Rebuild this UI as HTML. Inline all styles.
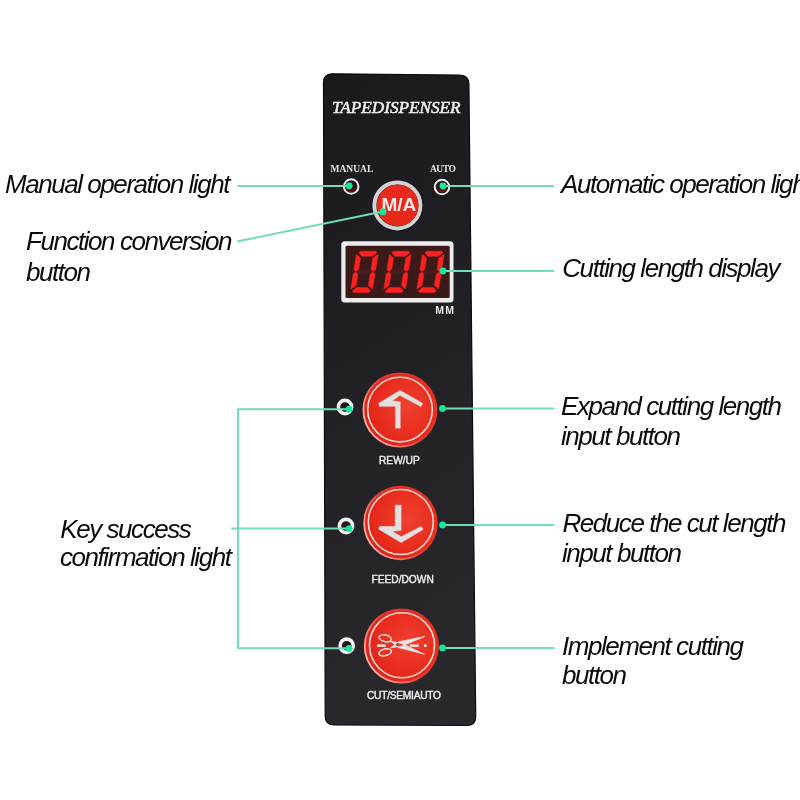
<!DOCTYPE html>
<html><head><meta charset="utf-8">
<style>
html,body{margin:0;padding:0;background:#fff;width:800px;height:800px;overflow:hidden}
svg{position:absolute;left:0;top:0;display:block;will-change:transform}
.lab{font-family:"Liberation Sans",sans-serif;font-style:italic;font-size:26px;letter-spacing:-1.45px;fill:#0a0a0a}
</style></head><body>
<svg width="800" height="800" viewBox="0 0 800 800">
<defs>
<linearGradient id="pg" x1="0" y1="0" x2="0.15" y2="1">
<stop offset="0" stop-color="#1a1a1e"/><stop offset="0.5" stop-color="#212125"/><stop offset="1" stop-color="#29292d"/>
</linearGradient>
<radialGradient id="rb" cx="0.6" cy="0.45" r="0.65">
<stop offset="0" stop-color="#f0402f"/><stop offset="0.7" stop-color="#e62a1c"/><stop offset="1" stop-color="#d42216"/>
</radialGradient>
<linearGradient id="rim" x1="0.9" y1="0.2" x2="0.05" y2="0.75">
<stop offset="0" stop-color="#ffb0a8" stop-opacity="0"/><stop offset="0.5" stop-color="#ffb0a8" stop-opacity="0.15"/><stop offset="1" stop-color="#ffc8c0" stop-opacity="0.9"/>
</linearGradient>
</defs>
<!-- panel -->
<path d="M332.5,73.8 L459.8,75 Q468.8,75.1 468.9,84 L475.7,716.5 Q475.8,725.5 466.8,725.5 L334.2,725 Q325.2,725 325.2,716 L323.5,82.8 Q323.5,73.8 332.5,73.8 Z" fill="url(#pg)" stroke="#0b0b0d" stroke-width="1.2"/>
<!-- title -->
<text x="332" y="112.6" font-family="Liberation Serif" font-style="italic" font-size="17.2" fill="#f0f0f0" stroke="#f0f0f0" stroke-width="0.5">TAPEDISPENSER</text>
<text x="330.5" y="172" font-family="Liberation Serif" font-weight="bold" font-size="9.5" fill="#e8e8e8">MANUAL</text>
<text x="430" y="172" font-family="Liberation Serif" font-weight="bold" font-size="9.5" letter-spacing="-0.5" fill="#e8e8e8">AUTO</text>
<!-- manual/auto leds -->
<circle cx="351.2" cy="186.5" r="8.3" fill="#2a1416" stroke="#0a0a0a" stroke-width="1"/>
<circle cx="351.2" cy="186.5" r="7.3" fill="none" stroke="#f2f2f2" stroke-width="2"/>
<circle cx="442" cy="187" r="8.3" fill="#2a1416" stroke="#0a0a0a" stroke-width="1"/>
<circle cx="442" cy="187" r="7.3" fill="none" stroke="#f2f2f2" stroke-width="2"/>
<path d="M346.8,188 A4.6,4.6 0 0 0 355.6,188" fill="none" stroke="#701210" stroke-width="1.6"/>
<path d="M437.6,188.5 A4.6,4.6 0 0 0 446.4,188.5" fill="none" stroke="#701210" stroke-width="1.6"/>
<!-- M/A button -->
<circle cx="397.4" cy="205.4" r="25.3" fill="#1a1a1a"/>
<circle cx="397.4" cy="205.4" r="23" fill="none" stroke="#d4d2d2" stroke-width="4"/>
<circle cx="397.6" cy="205.3" r="20.8" fill="#e8281a"/>
<text x="381.5" y="211" font-family="Liberation Sans" font-weight="bold" font-size="19" fill="#f3e9e8">M/A</text>
<!-- display -->
<rect x="341.3" y="241.3" width="112.2" height="61.2" rx="3.5" fill="#ededed"/>
<rect x="345.5" y="245.8" width="104.2" height="52.2" rx="1.5" fill="#3a1b1a"/>
<g id="dig">
<g transform="matrix(1,0,-0.16,1,356.61,251.2)"><path d="M3,20.6 L5.3,18.6 H17 L19.3,20.6 L17,22.6 H5.3 Z" fill="#4a1c1a"/><path d="M4,0 H19 L20.5,1.3 L16.5,5 H6 L2.5,1.3 Z M0.3,3.2 L5,6.8 V18 L2.7,20.3 L0.3,18.6 Z M22,3.2 V18.6 L19.6,20.3 L17.3,18 V6.8 Z M0.3,22.6 L2.7,20.9 L5,23.2 V34.3 L0.3,37.8 Z M22,22.6 V37.8 L17.3,34.3 V23.2 L19.6,20.9 Z M6,36.2 H16.5 L20,39.7 L18.5,41.3 H3.5 L2,39.7 Z" fill="#ff2020" stroke="#ff2020" stroke-width="0.5" stroke-linejoin="round"/></g>
<g transform="matrix(1,0,-0.16,1,389.61,251.2)"><path d="M3,20.6 L5.3,18.6 H17 L19.3,20.6 L17,22.6 H5.3 Z" fill="#4a1c1a"/><path d="M4,0 H19 L20.5,1.3 L16.5,5 H6 L2.5,1.3 Z M0.3,3.2 L5,6.8 V18 L2.7,20.3 L0.3,18.6 Z M22,3.2 V18.6 L19.6,20.3 L17.3,18 V6.8 Z M0.3,22.6 L2.7,20.9 L5,23.2 V34.3 L0.3,37.8 Z M22,22.6 V37.8 L17.3,34.3 V23.2 L19.6,20.9 Z M6,36.2 H16.5 L20,39.7 L18.5,41.3 H3.5 L2,39.7 Z" fill="#ff2020" stroke="#ff2020" stroke-width="0.5" stroke-linejoin="round"/></g>
<g transform="matrix(1,0,-0.16,1,422.61,251.2)"><path d="M3,20.6 L5.3,18.6 H17 L19.3,20.6 L17,22.6 H5.3 Z" fill="#4a1c1a"/><path d="M4,0 H19 L20.5,1.3 L16.5,5 H6 L2.5,1.3 Z M0.3,3.2 L5,6.8 V18 L2.7,20.3 L0.3,18.6 Z M22,3.2 V18.6 L19.6,20.3 L17.3,18 V6.8 Z M0.3,22.6 L2.7,20.9 L5,23.2 V34.3 L0.3,37.8 Z M22,22.6 V37.8 L17.3,34.3 V23.2 L19.6,20.9 Z M6,36.2 H16.5 L20,39.7 L18.5,41.3 H3.5 L2,39.7 Z" fill="#ff2020" stroke="#ff2020" stroke-width="0.5" stroke-linejoin="round"/></g>
</g>
<text x="435.3" y="313.8" font-family="Liberation Sans" font-weight="bold" font-size="10.5" letter-spacing="1.2" fill="#e8e8e8">MM</text>
<!-- key leds -->
<g fill="#2a1618" stroke="#f3f3f3" stroke-width="3.6">
<circle cx="345" cy="407" r="6.6"/>
<circle cx="346" cy="526" r="6.6"/>
<circle cx="346.7" cy="645.7" r="6.6"/>
</g>
<!-- big buttons -->
<g>
<circle cx="400" cy="410" r="37.5" fill="url(#rb)"/>
<circle cx="400" cy="410" r="36.6" fill="none" stroke="url(#rim)" stroke-width="1.8"/>
<circle cx="400" cy="409.6" r="32.3" fill="none" stroke="#ffd9d3" stroke-width="1.6"/>
<circle cx="400.5" cy="523" r="37.2" fill="url(#rb)"/>
<circle cx="400.5" cy="523" r="36.3" fill="none" stroke="url(#rim)" stroke-width="1.8"/>
<circle cx="400.8" cy="522" r="32.5" fill="none" stroke="#ffd9d3" stroke-width="1.6"/>
<circle cx="401.4" cy="646" r="37.5" fill="url(#rb)"/>
<circle cx="401.4" cy="646" r="36.6" fill="none" stroke="url(#rim)" stroke-width="1.8"/>
<circle cx="402" cy="645.3" r="32.5" fill="none" stroke="#ffd9d3" stroke-width="1.6"/>
</g>
<!-- arrows -->
<path d="M378.5,403.2 L400,390.3 L422.8,403.3 L421,406.8 L400,395.6 L392.5,400.8 L400.4,401.5 L400.4,428.3 L395.4,428.3 L395.4,406.6 L379.3,406.6 Z" fill="#e2e0e0" stroke="#e2e0e0" stroke-width="0.25" stroke-linejoin="round"/>
<path d="M379.5,526.3 L395,526.3 L395,505 L401.2,505 L401.2,530.6 L392.5,531.3 L401.2,536.6 L421.3,526.2 L423.2,529.6 L401.2,542.8 L378.6,529.3 Z" fill="#e2e0e0" stroke="#e2e0e0" stroke-width="0.25" stroke-linejoin="round"/>
<!-- scissors -->
<g fill="none" stroke="#ece4e4" stroke-width="1.5">
<ellipse cx="385.2" cy="638.3" rx="6.2" ry="3.4" transform="rotate(14 385.2 638.3)"/>
<ellipse cx="385.2" cy="652.3" rx="6.4" ry="3.4" transform="rotate(-14 385.2 652.3)"/>
</g>
<path d="M390.5,647.8 L398.5,641.8 L424.5,636.6 L401.5,646.2 Z M390.5,641.2 L398.5,647.6 L424.3,654.2 L401.5,643.4 Z" fill="#ece4e4" stroke="#ece4e4" stroke-width="0.8" stroke-linejoin="round"/>
<circle cx="398.2" cy="644.7" r="0.9" fill="#c04040"/>
<g fill="#ece4e4">
<rect x="377.1" y="644.4" width="8.8" height="2.5"/>
<rect x="409.7" y="644.4" width="9" height="2.5"/>
<rect x="424" y="644.4" width="2.6" height="2.5"/>
</g>
<!-- button labels -->
<text x="379" y="463.7" font-family="Liberation Sans" font-size="10.2" fill="#eeeeee" stroke="#eeeeee" stroke-width="0.4">REW/UP</text>
<text x="371.5" y="582.5" font-family="Liberation Sans" font-size="10.2" fill="#eeeeee" stroke="#eeeeee" stroke-width="0.4">FEED/DOWN</text>
<text x="367" y="699.4" font-family="Liberation Sans" font-size="10.2" letter-spacing="-0.25" fill="#eeeeee" stroke="#eeeeee" stroke-width="0.4">CUT/SEMIAUTO</text>
<!-- leader lines -->
<g stroke="#74dcb6" stroke-width="2" fill="none">
<line x1="237.2" y1="186" x2="349" y2="186"/>
<line x1="237.2" y1="241.5" x2="383" y2="211.6"/>
<line x1="443" y1="186" x2="554.3" y2="186"/>
<line x1="443" y1="271" x2="554.3" y2="271"/>
<line x1="442.5" y1="408.5" x2="554.3" y2="408.5"/>
<line x1="442.5" y1="525" x2="554.3" y2="525"/>
<line x1="442.5" y1="648" x2="554.3" y2="648"/>
<path d="M349,409.2 L238,409.2 L238,648.2 L349,648.2"/>
<line x1="231.2" y1="528.5" x2="349" y2="528.5"/>
</g>
<g fill="#14e89c">
<circle cx="349.2" cy="185.8" r="3.4"/>
<circle cx="443" cy="186" r="3.4"/>
<circle cx="382.9" cy="211.7" r="3.5"/>
<circle cx="443" cy="271" r="3.4"/>
<circle cx="349.2" cy="409.2" r="3.4"/>
<circle cx="349.2" cy="528.7" r="3.4"/>
<circle cx="349" cy="648.5" r="3.4"/>
<circle cx="442.5" cy="408.5" r="3.4"/>
<circle cx="442.5" cy="525" r="3.4"/>
<circle cx="442.5" cy="648" r="3.4"/>
</g>
<!-- labels -->
<g class="lab">
<text x="5" y="192.8">Manual operation light</text>
<text x="26" y="249.7">Function conversion</text>
<text x="26" y="280.5">button</text>
<text x="60.3" y="537.5">Key success</text>
<text x="60" y="566.3">confirmation light</text>
<text x="561" y="192.8">Automatic operation light</text>
<text x="562.3" y="277">Cutting length display</text>
<text x="561" y="415">Expand cutting length</text>
<text x="561" y="445">input button</text>
<text x="562.5" y="531.5">Reduce the cut length</text>
<text x="562" y="561.5">input button</text>
<text x="562" y="655">Implement cutting</text>
<text x="562" y="683.5">button</text>
</g>
</svg>
</body></html>
